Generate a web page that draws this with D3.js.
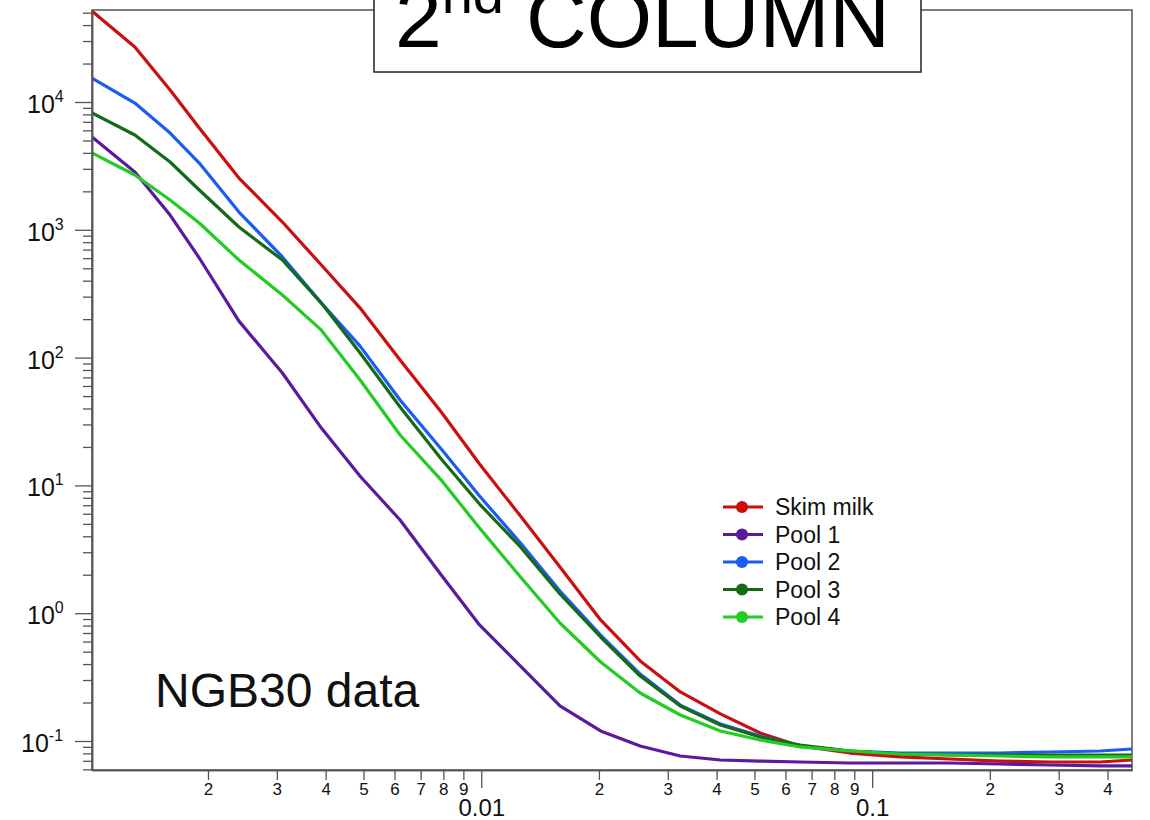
<!DOCTYPE html>
<html>
<head>
<meta charset="utf-8">
<script src="https://cdn.jsdelivr.net/npm/d3@7"></script>
<style>
  body { margin: 0; background: #fff; }
  text { font-family: "Liberation Sans", Arial, sans-serif; }
</style>
</head>
<body>
<script>
// q values (x axis, log)
var q = [0.00101, 0.0013, 0.0016, 0.0019, 0.0024, 0.0031, 0.0039, 0.0049, 0.0062, 0.0079,
         0.0099, 0.0126, 0.0159, 0.0202, 0.0255, 0.0323, 0.0409, 0.0517, 0.0654, 0.0878,
         0.118, 0.158, 0.212, 0.285, 0.383, 0.462];

// intensities
var skimMilk = [51500, 26900, 12400, 6260, 2543, 1151, 530, 244, 95.8, 37.5,
                14.7, 5.76, 2.30, 0.885, 0.423, 0.242, 0.163, 0.1155, 0.0914, 0.0805,
                0.075, 0.0723, 0.0697, 0.0685, 0.0685, 0.071];
var pool1 = [5322, 2834, 1305, 602, 193, 75.8, 28.1, 11.8, 5.36, 1.99,
             0.809, 0.386, 0.188, 0.1198, 0.0914, 0.0763, 0.071, 0.0697, 0.0685, 0.0673,
             0.0673, 0.0673, 0.0661, 0.0649, 0.0638, 0.0638];
var pool2 = [15400, 9820, 5720, 3332, 1378, 613, 267, 123, 46.6, 19.3,
             8.26, 3.54, 1.492, 0.675, 0.334, 0.191, 0.1358, 0.1094, 0.0914, 0.0835,
             0.0805, 0.0805, 0.0805, 0.082, 0.0835, 0.0866];
var pool3 = [8200, 5518, 3392, 2048, 1052, 580, 267, 108.6, 41.1, 16.1,
             7.15, 3.30, 1.413, 0.651, 0.3226, 0.1879, 0.1334, 0.1074, 0.093, 0.0835,
             0.0791, 0.0777, 0.0777, 0.0777, 0.0777, 0.0777];
var pool4 = [3990, 2685, 1711, 1130, 580, 309, 164, 66.8, 24.8, 11.0,
             4.64, 1.92, 0.838, 0.415, 0.2374, 0.1598, 0.1198, 0.1018, 0.0898, 0.0835,
             0.0791, 0.0777, 0.0763, 0.075, 0.075, 0.075];

var seriesNames = ["Skim milk", "Pool 1", "Pool 2", "Pool 3", "Pool 4"];
var seriesValues = [skimMilk, pool1, pool2, pool3, pool4];
var seriesColors = ["#cc0e0e", "#5a1a9c", "#1c5cf2", "#156a15", "#22cc22"];

var xMinorTicks = [0.002, 0.003, 0.004, 0.005, 0.006, 0.007, 0.008, 0.009,
                   0.02, 0.03, 0.04, 0.05, 0.06, 0.07, 0.08, 0.09, 0.2, 0.3, 0.4];
var xMajorTicks = [0.01, 0.1];
var xMajorLabels = ["0.01", "0.1"];
var yMajorExp = [-1, 0, 1, 2, 3, 4];

var w = 1150, h = 820;
var plotL = 92, plotR = 1132, plotT = 10, plotB = 770;

var svg = d3.select("body").append("svg")
    .attr("width", w)
    .attr("height", h);

var x = d3.scaleLog().domain([0.00101, 0.462]).range([plotL, plotR]);
var y = d3.scaleLog().domain([0.0593, 52480]).range([plotB, plotT]);

// minor y ticks
var yMinor = [];
for (var e = -2; e <= 4; e++) {
    for (var m = 2; m <= 9; m++) {
        var v = m * Math.pow(10, e);
        if (v >= y.domain()[0] && v <= y.domain()[1]) yMinor.push(v);
    }
}

// frame
svg.append("rect")
    .attr("x", plotL).attr("y", plotT)
    .attr("width", plotR - plotL).attr("height", plotB - plotT)
    .attr("fill", "none").attr("stroke", "#555").attr("stroke-width", 1.5);

// curves
var line = d3.line()
    .x(function(d) { return x(d[0]); })
    .y(function(d) { return y(d[1]); });

svg.append("clipPath").attr("id", "clip")
    .append("rect").attr("x", plotL).attr("y", plotT)
    .attr("width", plotR - plotL).attr("height", plotB - plotT);

seriesValues.forEach(function(vals, i) {
    svg.append("path")
        .datum(q.map(function(d, j) { return [d, vals[j]]; }))
        .attr("clip-path", "url(#clip)")
        .attr("fill", "none")
        .attr("stroke", seriesColors[i])
        .attr("stroke-width", 3.2)
        .attr("stroke-linejoin", "round")
        .attr("d", line);
});

// y axis
var yMinorAxis = d3.axisLeft(y).tickValues(yMinor).tickSize(9).tickSizeOuter(0).tickFormat("");
svg.append("g").attr("transform", "translate(" + plotL + ",0)").call(yMinorAxis);

var yMajorAxis = d3.axisLeft(y)
    .tickValues(yMajorExp.map(function(e) { return Math.pow(10, e); }))
    .tickSize(17).tickSizeOuter(0).tickFormat("");
svg.append("g").attr("transform", "translate(" + plotL + ",0)").call(yMajorAxis);

yMajorExp.forEach(function(e) {
    var t = svg.append("text")
        .attr("x", e < 0 ? 21 : 27)
        .attr("y", y(Math.pow(10, e)) + 11)
        .attr("font-size", 25)
        .attr("fill", "#111");
    t.append("tspan").text("10");
    t.append("tspan").attr("dy", -11).attr("font-size", 16).text(e);
});

// x axis
var xMinorAxis = d3.axisBottom(x).tickValues(xMinorTicks).tickSize(10).tickSizeOuter(0)
    .tickFormat(function(d) { return String(Math.round(d / Math.pow(10, Math.floor(Math.log10(d) + 1e-9)))); });
var gxm = svg.append("g").attr("transform", "translate(0," + plotB + ")").call(xMinorAxis);
gxm.selectAll("text").attr("y", 13).attr("font-size", 17).attr("fill", "#111")
    .style("font-family", "Liberation Sans, Arial, sans-serif");

var xMajorAxis = d3.axisBottom(x).tickValues(xMajorTicks).tickSize(18).tickSizeOuter(0)
    .tickFormat(function(d, i) { return xMajorLabels[i]; });
var gxM = svg.append("g").attr("transform", "translate(0," + plotB + ")").call(xMajorAxis);
gxM.selectAll("text").attr("y", 29).attr("font-size", 24).attr("fill", "#111")
    .style("font-family", "Liberation Sans, Arial, sans-serif");

svg.selectAll(".domain").attr("stroke", "#555").attr("stroke-width", 1.5);
svg.selectAll(".tick line").attr("stroke", "#555").attr("stroke-width", 1.3);

// legend
var legend = svg.append("g");
seriesNames.forEach(function(name, i) {
    var ly = 507 + i * 27.5;
    legend.append("line")
        .attr("x1", 723).attr("x2", 763).attr("y1", ly).attr("y2", ly)
        .attr("stroke", seriesColors[i]).attr("stroke-width", 3);
    legend.append("circle")
        .attr("cx", 742).attr("cy", ly).attr("r", 6)
        .attr("fill", seriesColors[i]);
    legend.append("text")
        .attr("x", 775).attr("y", ly + 8)
        .attr("font-size", 23).attr("fill", "#111")
        .text(name);
});

// annotation
svg.append("text")
    .attr("x", 155).attr("y", 707)
    .attr("font-size", 48).attr("fill", "#111")
    .text("NGB30 data");

// title box
svg.append("rect")
    .attr("x", 374).attr("y", -10)
    .attr("width", 547).attr("height", 82)
    .attr("fill", "#fff").attr("stroke", "#222").attr("stroke-width", 1.5);
var title = svg.append("text")
    .attr("x", 395).attr("y", 47)
    .attr("font-size", 84).attr("fill", "#000");
title.append("tspan").text("2");
title.append("tspan").attr("dy", -34).attr("font-size", 56).text("nd");
title.append("tspan").attr("dy", 34).attr("dx", 22).text("COLUMN");
</script>
</body>
</html>
